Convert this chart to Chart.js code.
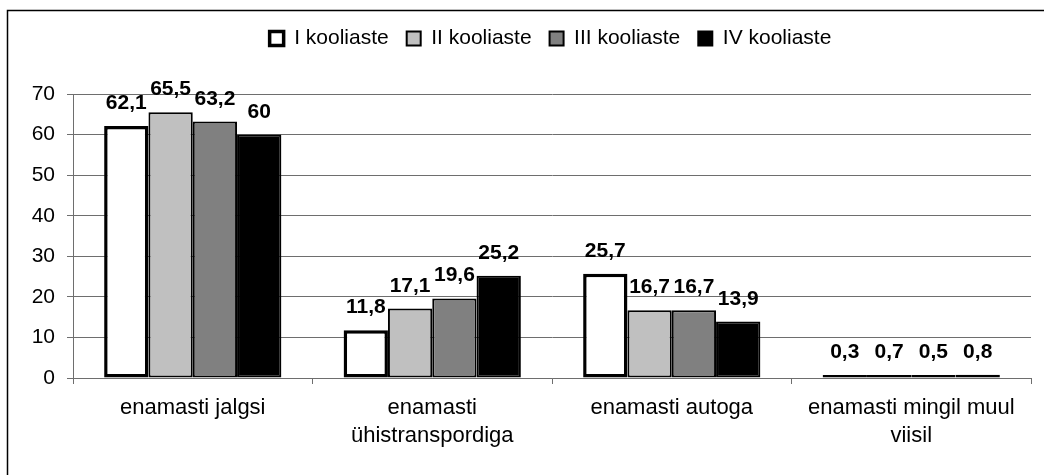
<!DOCTYPE html>
<html>
<head>
<meta charset="utf-8">
<script src="https://cdn.jsdelivr.net/npm/chart.js@4/dist/chart.umd.min.js"></script>
<style>
  html, body { margin: 0; padding: 0; background: #fff; }
  #wrap { width: 1044px; height: 475px; position: relative; }
</style>
</head>
<body>
<div id="wrap"><canvas id="chart" width="1044" height="475"></canvas></div>
<script>
// Data
const categories = [
    'enamasti jalgsi',
    ['enamasti', 'ühistranspordiga'],
    'enamasti autoga',
    ['enamasti mingil muul', 'viisil']
];
const seriesNames = ['I kooliaste', 'II kooliaste', 'III kooliaste', 'IV kooliaste'];
const stage1 = [62.1, 11.8, 25.7, 0.3];
const stage2 = [65.5, 17.1, 16.7, 0.7];
const stage3 = [63.2, 19.6, 16.7, 0.5];
const stage4 = [60, 25.2, 13.9, 0.8];
const yTicks = [0, 10, 20, 30, 40, 50, 60, 70];

const FONT = 'Liberation Sans, Arial, sans-serif';
const GRID = '#6e6e6e';

const fills = ['#ffffff', '#c0c0c0', '#808080', '#000000'];
const borders = [3.5, 2, 2, 2];
const seriesValues = [stage1, stage2, stage3, stage4];

// Frame line at top/left like the original export
const framePlugin = {
    id: 'frame',
    beforeDraw(chart) {
        const ctx = chart.ctx;
        ctx.save();
        ctx.fillStyle = '#fff';
        ctx.fillRect(0, 0, chart.width, chart.height);
        ctx.strokeStyle = '#000';
        ctx.lineWidth = 1.5;
        ctx.beginPath();
        ctx.moveTo(7.5, chart.height);
        ctx.lineTo(7.5, 10.5);
        ctx.lineTo(chart.width, 10.5);
        ctx.stroke();
        ctx.restore();
    }
};

// Legend height / position fix so it sits where the original does
const legendFixPlugin = {
    id: 'legendFix',
    beforeLayout(chart) {
        const lg = chart.legend;
        if (lg && !lg._fixed) {
            const fit = lg.fit.bind(lg);
            lg.fit = function() {
                fit();
                this.height = 84;
            };
            lg._fixed = true;
        }
    },
    afterLayout(chart) {
        if (chart.legend) {
            chart.legend.left += 70;
        }
    }
};

// Value labels above every bar, with decimal comma
const valueLabels = {
    id: 'valueLabels',
    afterDatasetsDraw(chart) {
        const ctx = chart.ctx;
        ctx.save();
        ctx.font = 'bold 21px ' + FONT;
        ctx.fillStyle = '#000';
        ctx.textAlign = 'center';
        ctx.textBaseline = 'alphabetic';
        chart.data.datasets.forEach((ds, i) => {
            const meta = chart.getDatasetMeta(i);
            meta.data.forEach((bar, j) => {
                const txt = String(ds.data[j]).replace('.', ',');
                ctx.fillText(txt, bar.x, bar.y - 17);
            });
        });
        ctx.restore();
    }
};

const datasets = seriesNames.map((name, i) => ({
    label: name,
    data: seriesValues[i],
    backgroundColor: fills[i],
    borderColor: '#000',
    borderWidth: borders[i],
    borderSkipped: false,
    minBarLength: 3,
    categoryPercentage: 0.74,
    barPercentage: 1.0
}));

new Chart(document.getElementById('chart').getContext('2d'), {
    type: 'bar',
    data: { labels: categories, datasets: datasets },
    options: {
        responsive: false,
        animation: false,
        layout: { padding: { top: 10, right: 13, bottom: 0, left: 0 } },
        plugins: {
            legend: {
                position: 'top',
                labels: {
                    color: '#000',
                    font: { family: FONT, size: 21 },
                    boxWidth: 14,
                    boxHeight: 14,
                    padding: 18
                }
            },
            tooltip: { enabled: false }
        },
        scales: {
            x: {
                grid: {
                    offset: true,
                    drawOnChartArea: false,
                    drawTicks: true,
                    tickLength: 6,
                    color: GRID
                },
                border: { display: true, color: GRID, width: 1 },
                ticks: {
                    color: '#000',
                    font: { family: FONT, size: 22, lineHeight: 1.27 },
                    padding: 10,
                    maxRotation: 0,
                    autoSkip: false
                },
                afterFit(scale) { scale.height = 97; }
            },
            y: {
                min: 0,
                max: 70,
                afterBuildTicks(scale) {
                    scale.ticks = yTicks.map(v => ({ value: v }));
                },
                grid: {
                    color: GRID,
                    drawTicks: true,
                    tickLength: 6,
                    lineWidth: 1
                },
                border: { display: true, color: GRID, width: 1 },
                ticks: {
                    color: '#000',
                    font: { family: FONT, size: 21 },
                    padding: 12
                },
                afterFit(scale) { scale.width = 73; }
            }
        }
    },
    plugins: [framePlugin, legendFixPlugin, valueLabels]
});
</script>
</body>
</html>
